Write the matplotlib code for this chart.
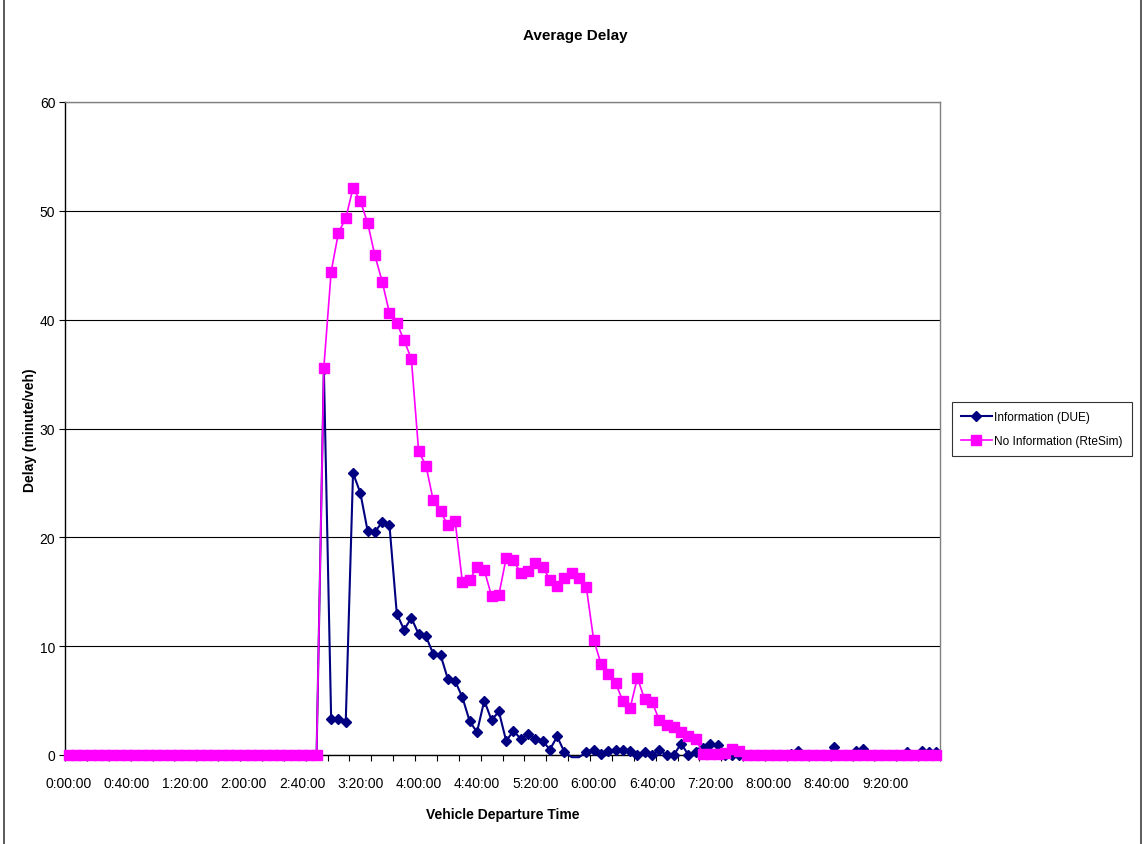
import numpy as np
import matplotlib
matplotlib.use("Agg")
import matplotlib.pyplot as plt
from matplotlib.lines import Line2D

plt.rcParams['font.family'] = ['Liberation Sans', 'DejaVu Sans']

# 5-minute departure-time categories (0:00:00 ... 9:55:00)
categories = [f"{m // 60}:{m % 60:02d}:00" for m in range(0, 600, 5)]
tick_labels = ["0:00:00", "0:40:00", "1:20:00", "2:00:00", "2:40:00", "3:20:00",
               "4:00:00", "4:40:00", "5:20:00", "6:00:00", "6:40:00", "7:20:00",
               "8:00:00", "8:40:00", "9:20:00"]

info_due = ([0.0] * 35 + [
    35.5, 3.3, 3.3, 3.0, 25.9, 24.1, 20.6, 20.5, 21.4, 21.1,      # 35-44
    13.0, 11.5, 12.6, 11.1, 10.9, 9.3, 9.2, 7.0, 6.8, 5.3,         # 45-54
    3.1, 2.1, 5.0, 3.2, 4.0, 1.3, 2.2, 1.5, 1.9, 1.5,              # 55-64
    1.3, 0.5, 1.7, 0.25, -0.2, -0.2, 0.25, 0.5, 0.05, 0.35,        # 65-74
    0.45, 0.45, 0.4, 0.0, 0.25, 0.0, 0.45, 0.0, 0.0, 1.05,         # 75-84
    0.0, 0.3, 0.6, 1.0, 0.95, 0.0, 0.0, 0.0, 0.0, 0.0,             # 85-94
    0.0, 0.0, 0.0, 0.0, 0.1, 0.4, 0.0, 0.0, 0.0, 0.0,              # 95-104
    0.7, 0.0, 0.0, 0.35, 0.55, 0.0, 0.0, 0.0, 0.0, 0.0,            # 105-114
    0.3, 0.0, 0.4, 0.3, 0.25])                                     # 115-119

no_info_rtesim = ([0.0] * 35 + [
    35.6, 44.4, 48.0, 49.3, 52.1, 50.9, 48.9, 45.9, 43.5, 40.6,    # 35-44
    39.7, 38.1, 36.4, 27.9, 26.6, 23.4, 22.4, 21.1, 21.5, 15.9,    # 45-54
    16.1, 17.3, 17.0, 14.6, 14.7, 18.1, 17.9, 16.7, 16.9, 17.6,    # 55-64
    17.3, 16.1, 15.5, 16.3, 16.7, 16.3, 15.4, 10.6, 8.4, 7.4,      # 65-74
    6.6, 5.0, 4.3, 7.1, 5.1, 4.9, 3.2, 2.8, 2.6, 2.1,              # 75-84
    1.7, 1.5, 0.1, 0.1, 0.1, 0.2, 0.55, 0.35] + [0.0] * 27)        # 85-119

W, H = 1143, 845
fig = plt.figure(figsize=(W / 100, H / 100), dpi=100)
fig.patch.set_facecolor('white')
ax = fig.add_axes([65 / W, 89 / H, 875 / W, 653 / H])

x = np.arange(len(categories))
mask = [v >= 0 for v in info_due]
ax.plot(x, info_due, color='#000080', lw=1.5, marker='D', ms=4.8,
        markevery=mask, clip_on=False, label='Information (DUE)', zorder=3)
ax.plot(x, no_info_rtesim, color='#FF00FF', lw=1.2, marker='s', ms=6.5,
        clip_on=False, label='No Information (RteSim)', zorder=4)

ax.set_xlim(-0.5, len(categories) - 0.5)
ax.set_ylim(0, 60)

ax.set_xticks(np.arange(0, len(categories), 8))
ax.set_xticklabels(tick_labels)
ax.set_xticks(np.arange(-0.5, len(categories), 3), minor=True)
ax.tick_params(axis='x', which='major', length=0, pad=15, labelsize=10)
ax.tick_params(axis='x', which='minor', length=4, direction='out', width=0.8, color='black')
ax.set_yticks(np.arange(0, 61, 10))
ax.tick_params(axis='y', which='major', length=4, direction='out', width=0.8, pad=3, labelsize=10)

ax.yaxis.grid(True, color='black', lw=0.8)
ax.set_axisbelow(True)
for s in ['top', 'right']:
    ax.spines[s].set_color('#808080')
    ax.spines[s].set_linewidth(1.0)
for s in ['left', 'bottom']:
    ax.spines[s].set_color('black')
    ax.spines[s].set_linewidth(1.0)

leg = ax.legend(loc='center left', bbox_to_anchor=(952 / W, (H - 430) / H),
                bbox_transform=fig.transFigure, fontsize=8.6, frameon=True,
                fancybox=False, edgecolor='black', handlelength=2.6,
                borderpad=0.75, labelspacing=1.05, handletextpad=0.2,
                borderaxespad=0)
leg.get_frame().set_linewidth(0.8)

fig.text(575 / W, (H - 36) / H, 'Average Delay', ha='center', va='center',
         fontsize=11, fontweight='bold')
fig.text(503 / W, (H - 815) / H, 'Vehicle Departure Time', ha='center',
         va='center', fontsize=10, fontweight='bold')
fig.text(30 / W, (H - 430) / H, 'Delay (minute/veh)', ha='center',
         va='center', rotation=90, fontsize=10, fontweight='bold')

for xb in (4 / W, 1141 / W):
    fig.add_artist(Line2D([xb, xb], [0, 1], transform=fig.transFigure,
                          color='#404040', lw=1.2))

fig.savefig('out.png', dpi=100)
